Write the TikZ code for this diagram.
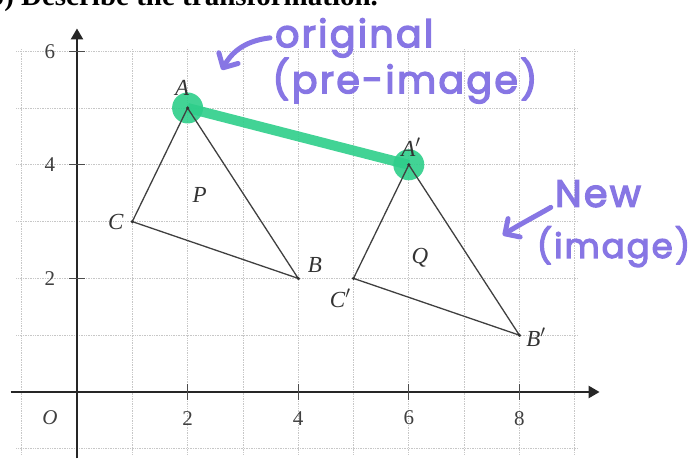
\documentclass[tikz,border=0pt]{standalone}
\usepackage{fontspec}
\setmainfont{Liberation Serif}
\newfontfamily\handfont[LetterSpace=6, FakeBold=3.5]{Poppins}
\usetikzlibrary{arrows.meta}
\definecolor{marker}{RGB}{46,206,138}
\definecolor{pen}{RGB}{135,118,228}
\begin{document}
\begin{tikzpicture}[
  x=55.3pt, y=56.8pt,
  gridline/.style={densely dotted, black!22, line width=0.7pt},
  axis/.style={line width=2.4pt, black!85, -{Triangle[length=11pt, width=12pt]}},
  tick/.style={line width=1.2pt, black!70},
  side/.style={line width=1.3pt, black!75},
  vdot/.style={circle, fill=black!80, inner sep=0pt, minimum size=3.5pt},
  vlbl/.style={font=\itshape\fontsize{23}{23}\selectfont, text=black!80, inner sep=1pt},
  ticklbl/.style={font=\fontsize{21}{21}\selectfont, text=black!75, inner sep=1pt},
  hl/.style={line width=10pt, marker, opacity=.9},
  hlspot/.style={circle, fill=marker, opacity=.9, minimum size=31pt, inner sep=0pt},
  note/.style={font=\handfont\fontsize{38}{38}\selectfont, text=pen, inner sep=0pt, anchor=base west},
  penarr/.style={line width=5pt, pen, line cap=round,
    -{Straight Barb[length=11pt, width=22pt, line width=5pt, round]}},
]
\useasboundingbox (-1.392,-1.197) rectangle (11.157,6.901);

% Heading (cut off at the top)
\node[font=\bfseries\fontsize{29}{29}\selectfont, anchor=base west, inner sep=0pt]
  (title) at (-1.61,6.81) {b) Describe the transformation.};

% Grid
\foreach \gx in {-1,...,9}
  \draw[gridline] (\gx,-1.1) -- (\gx,6.05);
\foreach \gy in {-1,...,6}
  \draw[gridline] (-1.1,\gy) -- (9.05,\gy);

% Axes
\draw[axis] (-1.2,0) -- (9.45,0);
\draw[axis] (0,-1.17) -- (0,6.4);
\foreach \t in {2,4,6,8} {
  \draw[tick] (\t,-0.14) -- (\t,0.14);
  \node[ticklbl] (xl\t) at (\t,-0.46) {\t};
}
\foreach \t in {2,4,6} {
  \draw[tick] (-0.15,\t) -- (0.15,\t);
  \node[ticklbl] (yl\t) at (-0.49,\t) {\t};
}
\node[ticklbl, font=\itshape\fontsize{21}{21}\selectfont] (orig0) at (-0.49,-0.46) {O};

% Vertices
\coordinate (A) at (2,5);
\coordinate (B) at (4,2);
\coordinate (C) at (1,3);
\coordinate (Ap) at (6,4);
\coordinate (Bp) at (8,1);
\coordinate (Cp) at (5,2);

% Highlight A to A'
\draw[hl] (A) -- (Ap);
\node[hlspot] (spotA) at (A) {};
\node[hlspot] (spotAp) at (Ap) {};

% Triangles P and Q
\draw[side] (A) -- (B) -- (C) -- cycle;
\draw[side] (Ap) -- (Bp) -- (Cp) -- cycle;
\foreach \v in {A,B,C,Ap,Bp,Cp}
  \node[vdot] at (\v) {};

% Vertex labels
\node[vlbl] (lA) at (1.9,5.36) {A};
\node[vlbl] (lB) at (4.3,2.24) {B};
\node[vlbl] (lC) at (0.7,2.99) {C};
\node[vlbl] (lP) at (2.22,3.47) {P};
\node[vlbl] (lAp) at (6.04,4.31) {A$'$};
\node[vlbl] (lBp) at (8.3,0.97) {B$'$};
\node[vlbl] (lCp) at (4.76,1.65) {C$'$};
\node[vlbl] (lQ) at (6.2,2.36) {Q};

% Notes
\node[note] (orig) at (3.58,6.07) {original};
\node[note] (preimg) at (3.53,5.26) {(pre-image)};
\node[note] (new) at (8.64,3.26) {New};
\node[note, font=\handfont\fontsize{34}{34}\selectfont] (img) at (8.31,2.36) {(image)};

\coordinate (origtip) at (2.62,5.67);
\coordinate (newtip) at (7.70,2.76);
\draw[penarr] ([xshift=-5pt]orig.west) .. controls (3.0,6.18) and (2.78,5.95) .. (origtip);
\draw[penarr] ([xshift=-4pt]new.south west) .. controls (8.3,3.1) and (7.95,2.92) .. (newtip);

\end{tikzpicture}
\end{document}
